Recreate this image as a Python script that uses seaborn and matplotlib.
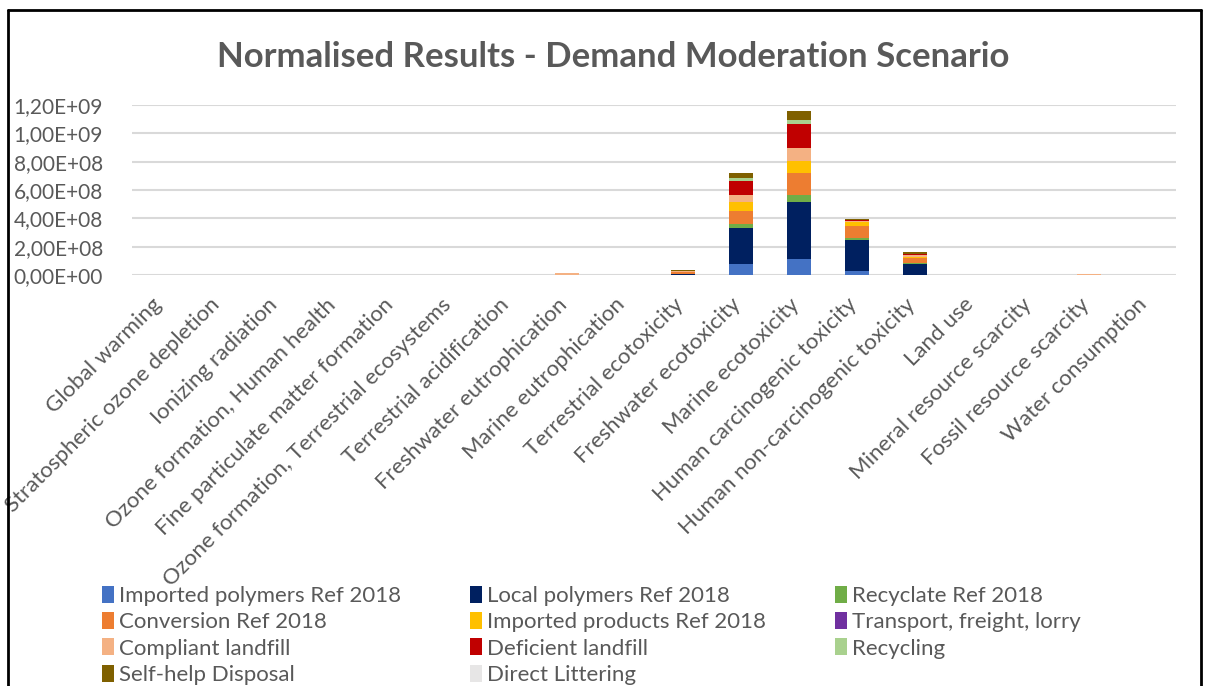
import numpy as np
import pandas as pd
import matplotlib
matplotlib.use("Agg")
import matplotlib.pyplot as plt
import matplotlib.patches as mpatches
import matplotlib.transforms as mtransforms
from matplotlib.lines import Line2D
import seaborn as sns

# Impact categories (ReCiPe midpoints)
categories = [
    "Global warming", "Stratospheric ozone depletion", "Ionizing radiation",
    "Ozone formation, Human health", "Fine particulate matter formation",
    "Ozone formation, Terrestrial ecosystems", "Terrestrial acidification",
    "Freshwater eutrophication", "Marine eutrophication", "Terrestrial ecotoxicity",
    "Freshwater ecotoxicity", "Marine ecotoxicity", "Human carcinogenic toxicity",
    "Human non-carcinogenic toxicity", "Land use", "Mineral resource scarcity",
    "Fossil resource scarcity", "Water consumption",
]

series_names = [
    "Imported polymers Ref 2018", "Local polymers Ref 2018", "Recyclate Ref 2018",
    "Conversion Ref 2018", "Imported products Ref 2018", "Transport, freight, lorry",
    "Compliant landfill", "Deficient landfill", "Recycling",
    "Self-help Disposal", "Direct Littering",
]

series_colors = [
    "#4472C4", "#002060", "#70AD47", "#ED7D31", "#FFC000", "#7030A0",
    "#F4B183", "#C00000", "#A9D18E", "#7F6000", "#E7E6E6",
]

# values (normalised), one list per contributor
imported_polymers = [0, 0, 0, 0, 0, 0, 0, 0, 0, 1e6, 7.5e7, 1.1e8, 2.8e7, 3e6, 0, 0, 0, 0]
local_polymers    = [0, 0, 0, 0, 0, 0, 0, 0, 0, 8e6, 2.54e8, 4.07e8, 2.19e8, 7.8e7, 0, 0, 0, 0]
recyclate         = [0, 0, 0, 0, 0, 0, 0, 0, 0, 1e6, 3.3e7, 4.9e7, 1.2e7, 7e6, 0, 0, 0, 0]
conversion        = [0, 0, 0, 0, 0, 0, 0, 3e6, 0, 8e6, 9.2e7, 1.55e8, 8.7e7, 3e7, 0, 0, 2e6, 0]
imported_products = [0, 0, 0, 0, 0, 0, 0, 0, 0, 6e6, 5.9e7, 8.7e7, 3.1e7, 1e7, 0, 0, 0, 0]
transport         = [0, 0, 0, 0, 0, 0, 0, 0, 0, 0, 0, 0, 0, 0, 0, 0, 0, 0]
compliant_landfill = [0, 0, 0, 0, 0, 0, 0, 8e6, 0, 3e6, 5.4e7, 8.9e7, 7e6, 1.2e7, 0, 0, 2e6, 0]
deficient_landfill = [0, 0, 0, 0, 0, 0, 0, 0, 0, 2e6, 9.9e7, 1.69e8, 3e6, 7e6, 0, 0, 4e6, 0]
recycling         = [0, 0, 0, 0, 0, 0, 0, 0, 0, 0, 2.1e7, 2.8e7, 2e6, 3e6, 0, 0, 0, 0]
self_help         = [0, 0, 0, 0, 0, 0, 0, 0, 0, 4e6, 3.5e7, 6.2e7, 7e6, 1.2e7, 0, 0, 0, 0]
direct_littering  = [0, 0, 0, 0, 0, 0, 0, 0, 0, 0, 1e6, 1e6, 0, 0, 0, 0, 0, 0]

series_values = [
    imported_polymers, local_polymers, recyclate, conversion, imported_products,
    transport, compliant_landfill, deficient_landfill, recycling, self_help,
    direct_littering,
]

yticks = [0, 2e8, 4e8, 6e8, 8e8, 1.0e9, 1.2e9]

FONT = "Lato"
TEXT = "#595959"

sns.set_style("white")
plt.rcParams["font.family"] = [FONT, "DejaVu Sans"]

df = pd.DataFrame(np.array(series_values).T, index=categories, columns=series_names)
cum = df.cumsum(axis=1)

fig = plt.figure(figsize=(12.07, 6.86), dpi=100)
W, H = 1207, 686
ax = fig.add_axes([132 / W, 1 - 275 / H, 1044 / W, 170 / H])

# stacked bars: draw cumulative totals from the top contributor down
for name, color in reversed(list(zip(series_names, series_colors))):
    sns.barplot(x=categories, y=cum[name].values, order=categories, color=color,
                saturation=1, width=0.41, linewidth=0, ax=ax)

ax.set_ylim(0, 1.2e9)
ax.set_xlim(-0.5, len(categories) - 0.5)
ax.set_yticks(yticks)
ax.set_yticklabels([f"{v:.2E}".replace(".", ",") for v in yticks],
                   fontsize=15, color=TEXT)
ax.yaxis.grid(True, color="#D9D9D9", linewidth=1.5)
ax.set_axisbelow(True)
for s in ax.spines.values():
    s.set_visible(False)
ax.tick_params(axis="both", length=0)
ax.tick_params(axis="y", pad=21)
ax.set_xticks(range(len(categories)))
ax.set_xticklabels(categories, rotation=45, ha="right", rotation_mode="anchor",
                   fontsize=16, color=TEXT)
ax.tick_params(axis="x", pad=14)
shift = mtransforms.ScaledTranslation(-10 / 100, 0, fig.dpi_scale_trans)
for lbl in ax.get_xticklabels():
    lbl.set_transform(lbl.get_transform() + shift)
ax.set_xlabel("")
ax.set_ylabel("")

fig.text(613 / W, 1 - 57 / H, "Normalised Results - Demand Moderation Scenario",
         ha="center", va="center", fontsize=25, fontweight="bold", color=TEXT)

# legend laid out row by row in three columns
col_x = [102, 470, 835]
for c in range(3):
    idx = list(range(c, len(series_names), 3))
    handles = [mpatches.Patch(facecolor=series_colors[i], edgecolor="none") for i in idx]
    labels = [series_names[i] for i in idx]
    leg = fig.legend(handles, labels, loc="upper left",
                     bbox_to_anchor=(col_x[c] / W, 1 - 586 / H), frameon=False,
                     fontsize=16, handlelength=0.52, handleheight=0.8,
                     handletextpad=0.25, labelspacing=0.27, borderpad=0,
                     borderaxespad=0)
    for t in leg.get_texts():
        t.set_color(TEXT)

# chart frame
frame = dict(color="black", linewidth=2, transform=fig.transFigure)
fig.add_artist(Line2D([8 / W, 8 / W], [0, 1 - 10 / H], **frame))
fig.add_artist(Line2D([8 / W, 1201 / W], [1 - 10 / H, 1 - 10 / H], **frame))
fig.add_artist(Line2D([1201 / W, 1201 / W], [0, 1 - 10 / H], **frame))

fig.savefig("out.png", dpi=100)
